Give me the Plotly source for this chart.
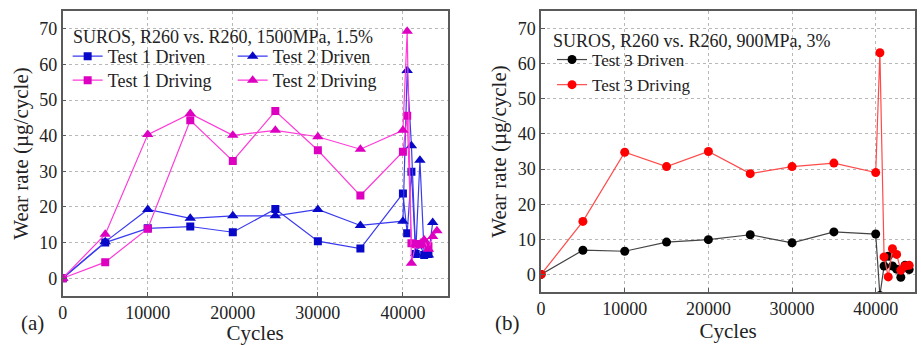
import plotly.graph_objects as go

# ---------------- data ----------------
cycles_main = [0, 5000, 10000, 15000, 20000, 25000, 30000, 35000, 40000]

t1_driven_x = cycles_main + [40500, 41000, 41500, 42000, 42500, 43000]
t1_driven_y = [0, 10.0, 14.0, 14.5, 12.9, 19.4, 10.4, 8.3, 23.8, 12.6, 29.9, 6.8, 9.5, 6.5, 6.8]

t2_driven_x = cycles_main + [40500, 41000, 41500, 42000, 42500, 43000, 43500]
t2_driven_y = [0, 10.2, 19.3, 16.8, 17.5, 17.5, 19.3, 14.8, 16.0, 58.3, 37.2, 7.0, 33.1, 6.5, 6.5, 15.6]

t1_driving_x = cycles_main + [40500, 41000, 41500, 42000, 42500, 43000]
t1_driving_y = [0, 4.5, 13.9, 44.3, 32.9, 46.9, 35.9, 23.2, 35.5, 45.6, 9.8, 9.5, 9.5, 10.0, 9.0]

t2_driving_x = cycles_main + [40500, 41000, 41500, 42000, 42500, 43000, 43500, 44000]
t2_driving_y = [0, 12.3, 40.3, 46.2, 40.1, 41.5, 39.7, 36.2, 41.5, 69.3, 4.2, 9.5, 9.5, 10.7, 8.1, 11.7, 13.3]

t3_x = cycles_main + [40500, 41000, 41500, 42000, 42500, 43000, 43500, 44000]
t3_driven_y = [0, 6.9, 6.6, 9.2, 9.9, 11.3, 9.0, 12.1, 11.5, -6.0, 2.4, 5.2, 2.4, 1.5, -0.8, 2.6, 1.4]
t3_driving_y = [0, 15.1, 34.8, 30.7, 35.0, 28.7, 30.7, 31.7, 29.0, 63.1, 5.0, -0.7, 7.3, 5.7, 1.2, 2.4, 2.6]

x_ticks = [0, 10000, 20000, 30000, 40000]
x_ticklabels = ["0", "10000", "20000", "30000", "40000"]
y_ticks = [0, 10, 20, 30, 40, 50, 60, 70]

title_a = "SUROS, R260 vs. R260, 1500MPa, 1.5%"
title_b = "SUROS, R260 vs. R260, 900MPa, 3%"

# ---------------- styling ----------------
FONT = "Liberation Serif"
BLUE_L, BLUE_M = "#3a3af0", "#0808c8"
PINK_L, PINK_M = "#ff3ad8", "#de00c0"
RED_L, RED_M = "#ff4a4a", "#ff0000"
BLK_L, BLK_M = "#444444", "#000000"

fig = go.Figure()

def add(x, y, name, lc, mc, symbol, size, xa, ya, legend):
    fig.add_trace(go.Scatter(
        x=x, y=y, name=name, mode="lines+markers",
        line=dict(color=lc, width=1.2),
        marker=dict(color=mc, symbol=symbol, size=size),
        xaxis=xa, yaxis=ya, legend=legend))

add(t1_driven_x, t1_driven_y, "Test 1 Driven", BLUE_L, BLUE_M, "square", 8, "x", "y", "legend")
add(t2_driven_x, t2_driven_y, "Test 2 Driven", BLUE_L, BLUE_M, "triangle-up", 10, "x", "y", "legend")
add(t1_driving_x, t1_driving_y, "Test 1 Driving", PINK_L, PINK_M, "square", 8, "x", "y", "legend2")
add(t2_driving_x, t2_driving_y, "Test 2 Driving", PINK_L, PINK_M, "triangle-up", 10, "x", "y", "legend2")
add(t3_x, t3_driven_y, "Test 3 Driven", BLK_L, BLK_M, "circle", 9, "x2", "y2", "legend3")
add(t3_x, t3_driving_y, "Test 3 Driving", RED_L, RED_M, "circle", 9, "x2", "y2", "legend3")

W, H = 921, 345
def px_x(p): return p / W
def px_y(p): return 1 - p / H

axis_common = dict(
    showline=True, mirror=True, linecolor="#5a5a5a", linewidth=1.5,
    ticks="inside", ticklen=4, tickcolor="#5a5a5a",
    showgrid=True, gridcolor="#b8b8b8", griddash="dot", gridwidth=1,
    zeroline=False,
    tickfont=dict(family=FONT, size=18, color="#222"),
)

TITLE_FONT = dict(family=FONT, size=21, color="#222")

fig.update_layout(
    width=W, height=H,
    margin=dict(l=0, r=0, t=0, b=0),
    paper_bgcolor="white", plot_bgcolor="white",
    font=dict(family=FONT, color="#222"),
    xaxis=dict(domain=[px_x(58), px_x(445)], range=[0, 45250],
               tickvals=x_ticks, ticktext=x_ticklabels,
               title=dict(text="Cycles", font=TITLE_FONT, standoff=3),
               anchor="y", **axis_common),
    yaxis=dict(domain=[px_y(296), px_y(11)], range=[-5, 75], tickvals=y_ticks,
               title=dict(text="Wear rate (µg/cycle)", font=TITLE_FONT, standoff=5),
               anchor="x", **axis_common),
    xaxis2=dict(domain=[px_x(539), px_x(915)], range=[0, 44700],
                tickvals=x_ticks, ticktext=x_ticklabels,
                title=dict(text="Cycles", font=TITLE_FONT, standoff=3),
                anchor="y2", **axis_common),
    yaxis2=dict(domain=[px_y(292), px_y(11)], range=[-5, 75], tickvals=y_ticks,
                title=dict(text="Wear rate (µg/cycle)", font=TITLE_FONT, standoff=5),
                anchor="x2", **axis_common),
    legend=dict(x=px_x(63), y=px_y(38), xanchor="left", yanchor="top", orientation="h",
                entrywidth=120, bgcolor="rgba(0,0,0,0)", font=dict(family=FONT, size=18),
                itemclick=False, tracegroupgap=0),
    legend2=dict(x=px_x(63), y=px_y(62), xanchor="left", yanchor="top", orientation="h",
                 entrywidth=120, bgcolor="rgba(0,0,0,0)", font=dict(family=FONT, size=18),
                 itemclick=False, tracegroupgap=0),
    legend3=dict(x=px_x(550), y=px_y(42), xanchor="left", yanchor="top", orientation="v",
                 bgcolor="rgba(0,0,0,0)", font=dict(family=FONT, size=17),
                 itemclick=False, tracegroupgap=0),
    annotations=[
        dict(text=title_a, x=px_x(66), y=px_y(37), xref="paper", yref="paper",
             xanchor="left", yanchor="middle", showarrow=False,
             font=dict(family=FONT, size=18, color="#222")),
        dict(text=title_b, x=px_x(549), y=px_y(41), xref="paper", yref="paper",
             xanchor="left", yanchor="middle", showarrow=False,
             font=dict(family=FONT, size=18, color="#222")),
        dict(text="(a)", x=px_x(28), y=px_y(323), xref="paper", yref="paper",
             xanchor="center", yanchor="middle", showarrow=False,
             font=dict(family=FONT, size=21, color="#222")),
        dict(text="(b)", x=px_x(505), y=px_y(323), xref="paper", yref="paper",
             xanchor="center", yanchor="middle", showarrow=False,
             font=dict(family=FONT, size=21, color="#222")),
    ],
)

fig.write_html("out.html")
